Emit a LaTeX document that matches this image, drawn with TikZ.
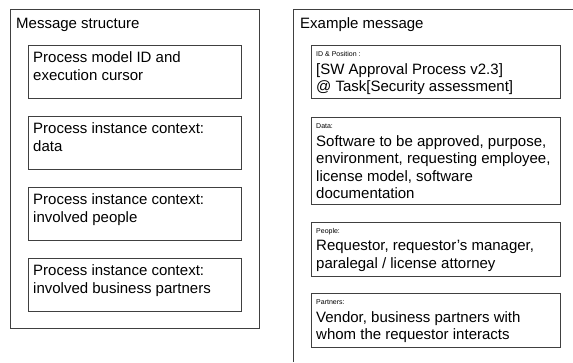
\documentclass[tikz,border=0pt]{standalone}
\usepackage{fontspec}
\setmainfont{Liberation Sans}
\usetikzlibrary{calc}
\tikzset{
  frame/.style={draw=black!75, line width=0.8pt, anchor=north west, inner sep=0pt},
  cell/.style={frame, minimum height=53pt},
  bigtext/.style={anchor=north west, inner sep=0pt, align=left, font=\fontsize{15}{17.5}\selectfont, execute at begin node={\strut}},
  smalltext/.style={anchor=base west, inner sep=0pt, font=\fontsize{7}{8.4}\selectfont},
  headtext/.style={anchor=base west, inner sep=0pt, font=\fontsize{15}{17.5}\selectfont}
}

\begin{document}
\begin{tikzpicture}[x=1pt, y=-1pt]
			%%%%% START %%%%%
			\useasboundingbox (0, 0) rectangle (573, 362);
			
			% message structure
			\node[frame, minimum width=249pt, minimum height=319pt] (msframe) at (10, 9) {};
			\node[headtext] (mshead) at ([xshift=6pt, yshift=-19pt]msframe.north west) {Message structure};
			
			\node[cell, minimum width=213pt] (ms1) at (28, 45) {};
			\node[bigtext] (ms1t) at ([xshift=5pt, yshift=-6.75pt]ms1.north west) {Process model ID and\\execution cursor};
			\node[cell, minimum width=213pt] (ms2) at (28, 116) {};
			\node[bigtext] (ms2t) at ([xshift=5pt, yshift=-6.75pt]ms2.north west) {Process instance context:\\data};
			\node[cell, minimum width=213pt] (ms3) at (28, 187) {};
			\node[bigtext] (ms3t) at ([xshift=5pt, yshift=-6.75pt]ms3.north west) {Process instance context:\\involved people};
			\node[cell, minimum width=213pt] (ms4) at (28, 258) {};
			\node[bigtext] (ms4t) at ([xshift=5pt, yshift=-6.75pt]ms4.north west) {Process instance context:\\involved business partners};
			
			% example message
			\coordinate (exframe) at (293, 9);
			\draw[black!75, line width=0.8pt] (exframe -| 573, 0) -- (exframe) -- (exframe |- 0, 362);
			\node[headtext] (exhead) at ([xshift=7pt, yshift=-19pt]exframe) {Example message};
			
			\node[cell, minimum width=249pt] (ex1) at (311, 45) {};
			\node[smalltext] (ex1l) at ([xshift=5pt, yshift=-11pt]ex1.north west) {ID \& Position :};
			\node[bigtext] (ex1t) at ([xshift=5pt, yshift=-18pt]ex1.north west) {[SW Approval Process v2.3]\\@ Task[Security assessment]};
			\node[cell, minimum width=249pt, minimum height=87pt] (ex2) at (311, 117) {};
			\node[smalltext] (ex2l) at ([xshift=5pt, yshift=-11pt]ex2.north west) {Data:};
			\node[bigtext] (ex2t) at ([xshift=5pt, yshift=-18pt]ex2.north west) {Software to be approved, purpose,\\environment, requesting employee,\\license model, software\\documentation};
			\node[cell, minimum width=249pt, minimum height=54pt] (ex3) at (311, 222) {};
			\node[smalltext] (ex3l) at ([xshift=5pt, yshift=-11pt]ex3.north west) {People:};
			\node[bigtext] (ex3t) at ([xshift=5pt, yshift=-18pt]ex3.north west) {Requestor, requestor’s manager,\\paralegal / license attorney};
			\node[cell, minimum width=249pt, minimum height=54pt] (ex4) at (311, 293) {};
			\node[smalltext] (ex4l) at ([xshift=5pt, yshift=-11pt]ex4.north west) {Partners:};
			\node[bigtext] (ex4t) at ([xshift=5pt, yshift=-18pt]ex4.north west) {Vendor, business partners with\\whom the requestor interacts};
			%%%%% END %%%%%
\end{tikzpicture}
\end{document}
